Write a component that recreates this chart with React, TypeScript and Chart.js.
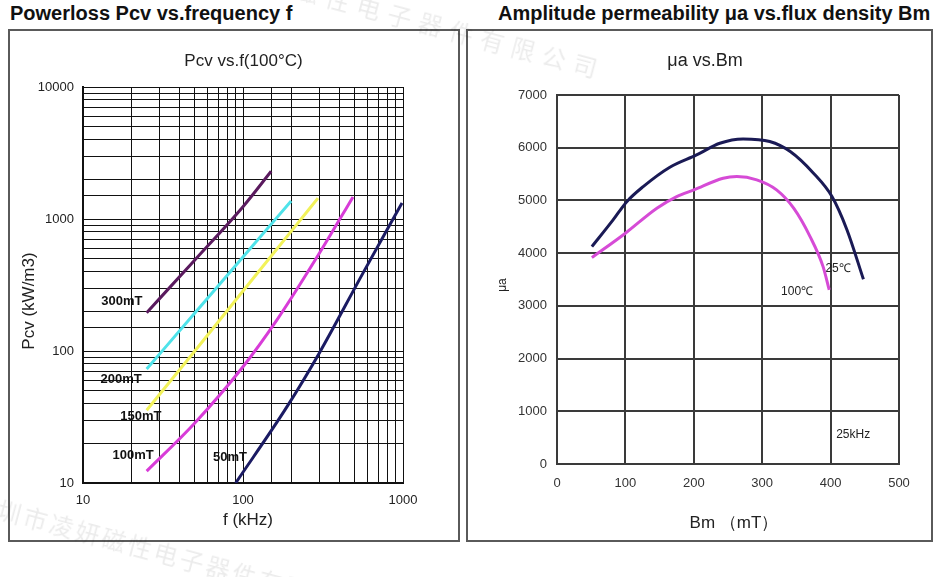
import { useEffect, useRef } from 'react';
import { Chart, registerables } from 'chart.js';

Chart.register(...registerables);

const FONT = '"Liberation Sans", Arial, Helvetica, sans-serif';

// ---- Power loss Pcv (kW/m3) vs frequency f (kHz) at 100°C ----
const freq300mT = [25, 50, 100, 150];
const pcv300mT = [195, 490, 1240, 2300];
const freq200mT = [25, 50, 100, 200];
const pcv200mT = [73, 194, 515, 1370];
const freq150mT = [25, 50, 100, 200, 294];
const pcv150mT = [35.6, 100, 285, 806, 1440];
const freq100mT = [25, 50, 100, 163, 300, 487];
const pcv100mT = [12.3, 28.5, 76, 172, 550, 1470];
const freq50mT = [90, 188, 302, 562, 986];
const pcv50mT = [10, 37.7, 98, 389, 1322];

const lossNames = ['300mT', '200mT', '150mT', '100mT', '50mT'];
const lossColors = ['#5a1a5e', '#4fe3ea', '#f2f25a', '#d83cd8', '#1b1b63'];
// where each flux-density label sits, in (f, Pcv)
const lossLabelFreq = [17.5, 17.3, 23.0, 20.6, 83];
const lossLabelPcv = [239, 61.4, 32.2, 16.3, 15.5];

// ---- Amplitude permeability μa vs Bm (mT) at 25 kHz ----
const bm25C = [51, 82, 102, 126, 165, 204, 238, 272, 311, 341, 375, 402, 424, 448];
const mu25C = [4123, 4630, 4977, 5262, 5630, 5863, 6085, 6167, 6117, 5927, 5516, 5073, 4440, 3504];
const bm100C = [51, 100, 146, 175, 200, 243, 263, 292, 321, 346, 370, 389, 398];
const mu100C = [3915, 4378, 4852, 5072, 5199, 5421, 5452, 5389, 5199, 4852, 4313, 3744, 3302];

const tempNames = ['25℃', '100℃'];
const tempColors = ['#1a1a55', '#d64bd6'];
const tempLabelBm = [411, 351];
const tempLabelMu = [3700, 3264];
const freqNoteText = '25kHz';
const freqNoteBm = 433;
const freqNoteMu = 550;

const watermarkText = '深圳市凌妍磁性电子器件有限公司';

type TextItem = {
  text: string;
  x: number;
  y: number;
  font: string;
  color?: string;
  rotate?: number;
  data?: boolean;
};

// Draws titles and curve labels on the canvas; data=true means (x, y) are axis values.
function textPlugin(items: TextItem[]) {
  return {
    id: 'freeText',
    afterDraw(chart: any) {
      const ctx = chart.ctx as CanvasRenderingContext2D;
      for (const t of items) {
        let x = t.x;
        let y = t.y;
        if (t.data) {
          x = chart.scales.x.getPixelForValue(t.x);
          y = chart.scales.y.getPixelForValue(t.y);
        }
        ctx.save();
        ctx.translate(x, y);
        if (t.rotate) ctx.rotate(t.rotate);
        ctx.font = t.font;
        ctx.fillStyle = t.color || '#1a1a1a';
        ctx.textAlign = 'center';
        ctx.textBaseline = 'middle';
        ctx.fillText(t.text, 0, 0);
        ctx.restore();
      }
    },
  };
}

const isDecade = (v: number) => Math.abs(Math.log10(v) - Math.round(Math.log10(v))) < 1e-6;

function LossChart() {
  const ref = useRef<HTMLCanvasElement>(null);
  useEffect(() => {
    if (!ref.current) return;
    const freqs = [freq300mT, freq200mT, freq150mT, freq100mT, freq50mT];
    const pcvs = [pcv300mT, pcv200mT, pcv150mT, pcv100mT, pcv50mT];
    const datasets = lossNames.map((name, k) => ({
      label: name,
      data: freqs[k].map((f, i) => ({ x: f, y: pcvs[k][i] })),
      showLine: true,
      borderColor: lossColors[k],
      borderWidth: 3,
      pointRadius: 0,
      cubicInterpolationMode: 'monotone' as const,
    }));
    const labels: TextItem[] = lossNames.map((name, k) => ({
      text: name,
      x: lossLabelFreq[k],
      y: lossLabelPcv[k],
      font: `bold 13px ${FONT}`,
      color: '#111',
      data: true,
    }));
    const tickFont = { family: FONT, size: 13 };
    const decadeLabel = (v: any) => (isDecade(Number(v)) ? String(Math.round(Number(v))) : '');
    const chart = new Chart(ref.current, {
      type: 'scatter',
      data: { datasets },
      options: {
        animation: false,
        responsive: false,
        layout: { padding: { top: 56, right: 54, left: 0, bottom: 0 } },
        plugins: {
          legend: { display: false },
          tooltip: { enabled: false },
        },
        scales: {
          x: {
            type: 'logarithmic',
            min: 10,
            max: 1000,
            z: 1,
            afterFit: (s: any) => {
              s.height = 57;
            },
            grid: { color: '#111', lineWidth: 1, drawTicks: false },
            border: { color: '#111', width: 2 },
            ticks: {
              autoSkip: false,
              maxRotation: 0,
              padding: 10,
              color: '#222',
              font: tickFont,
              callback: decadeLabel,
            },
          },
          y: {
            type: 'logarithmic',
            min: 10,
            max: 10000,
            z: 1,
            afterFit: (s: any) => {
              s.width = 73;
            },
            grid: { color: '#111', lineWidth: 1, drawTicks: false },
            border: { color: '#111', width: 2 },
            ticks: {
              autoSkip: false,
              padding: 9,
              color: '#222',
              font: tickFont,
              callback: decadeLabel,
            },
          },
        },
      },
      plugins: [
        textPlugin([
          { text: 'Pcv vs.f(100°C)', x: 233.5, y: 30.5, font: `17px ${FONT}`, color: '#222' },
          { text: 'Pcv (kW/m3)', x: 19, y: 270, font: `17px ${FONT}`, color: '#222', rotate: -Math.PI / 2 },
          { text: 'f (kHz)', x: 238, y: 489, font: `17px ${FONT}`, color: '#222' },
          ...labels,
        ]),
      ],
    } as any);
    return () => chart.destroy();
  }, []);
  return <canvas ref={ref} width={447} height={509} style={{ display: 'block' }} />;
}

function PermeabilityChart() {
  const ref = useRef<HTMLCanvasElement>(null);
  useEffect(() => {
    if (!ref.current) return;
    const bms = [bm25C, bm100C];
    const mus = [mu25C, mu100C];
    const datasets = tempNames.map((name, k) => ({
      label: name,
      data: bms[k].map((b, i) => ({ x: b, y: mus[k][i] })),
      showLine: true,
      borderColor: tempColors[k],
      borderWidth: 3,
      pointRadius: 0,
      cubicInterpolationMode: 'monotone' as const,
    }));
    const labels: TextItem[] = tempNames.map((name, k) => ({
      text: name,
      x: tempLabelBm[k],
      y: tempLabelMu[k],
      font: `12px ${FONT}`,
      color: '#222',
      data: true,
    }));
    const tickFont = { family: FONT, size: 13 };
    const plain = (v: any) => String(v);
    const chart = new Chart(ref.current, {
      type: 'scatter',
      data: { datasets },
      options: {
        animation: false,
        responsive: false,
        layout: { padding: { top: 64, right: 32, left: 0, bottom: 0 } },
        plugins: {
          legend: { display: false },
          tooltip: { enabled: false },
        },
        scales: {
          x: {
            type: 'linear',
            min: 0,
            max: 500,
            afterFit: (s: any) => {
              s.height = 76;
            },
            grid: { color: '#3a3a3a', lineWidth: 2, drawTicks: false },
            border: { color: '#3a3a3a', width: 2 },
            ticks: { stepSize: 100, maxRotation: 0, padding: 12, color: '#333', font: tickFont, callback: plain },
          },
          y: {
            type: 'linear',
            min: 0,
            max: 7000,
            afterFit: (s: any) => {
              s.width = 89;
            },
            grid: { color: '#3a3a3a', lineWidth: 2, drawTicks: false },
            border: { color: '#3a3a3a', width: 2 },
            ticks: { stepSize: 1000, padding: 10, color: '#333', font: tickFont, callback: plain },
          },
        },
      },
      plugins: [
        textPlugin([
          { text: 'μa vs.Bm', x: 237, y: 30.5, font: `18px ${FONT}`, color: '#222' },
          { text: 'μa', x: 35, y: 254, font: `12px ${FONT}`, color: '#222', rotate: -Math.PI / 2 },
          { text: 'Bm （mT）', x: 266, y: 492, font: `17px ${FONT}`, color: '#222' },
          { text: freqNoteText, x: freqNoteBm, y: freqNoteMu, font: `12px ${FONT}`, color: '#222', data: true },
          ...labels,
        ]),
      ],
    } as any);
    return () => chart.destroy();
  }, []);
  return <canvas ref={ref} width={463} height={509} style={{ display: 'block' }} />;
}

const headingStyle: React.CSSProperties = {
  position: 'absolute',
  top: 2,
  fontFamily: FONT,
  fontWeight: 'bold',
  fontSize: 20,
  lineHeight: '22px',
  color: '#111',
  whiteSpace: 'nowrap',
};

const boxStyle: React.CSSProperties = {
  position: 'absolute',
  top: 29,
  height: 513,
  boxSizing: 'border-box',
  border: '2px solid #5a5a5a',
};

const markStyle: React.CSSProperties = {
  position: 'absolute',
  fontFamily: '"Noto Sans CJK SC", sans-serif',
  fontSize: 24,
  lineHeight: '24px',
  color: 'rgba(0,0,0,0.08)',
  whiteSpace: 'nowrap',
  transformOrigin: '0 50%',
  transform: 'rotate(15deg)',
  pointerEvents: 'none',
};

export default function App() {
  return (
    <div
      style={{
        position: 'absolute',
        left: 0,
        top: 0,
        width: 947,
        height: 577,
        background: '#fff',
        overflow: 'hidden',
      }}
    >
      <div style={{ ...headingStyle, left: 10 }}>Powerloss Pcv vs.frequency f</div>
      <div style={{ ...headingStyle, left: 498 }}>Amplitude permeability μa vs.flux density Bm</div>
      <div style={{ ...boxStyle, left: 8, width: 452 }}>
        <LossChart />
      </div>
      <div style={{ ...boxStyle, left: 466, width: 467 }}>
        <PermeabilityChart />
      </div>
      <div style={{ ...markStyle, left: 141, top: -66, letterSpacing: 8 }}>{watermarkText}</div>
      <div style={{ ...markStyle, left: -28, top: 489, letterSpacing: 3 }}>{watermarkText}</div>
    </div>
  );
}
